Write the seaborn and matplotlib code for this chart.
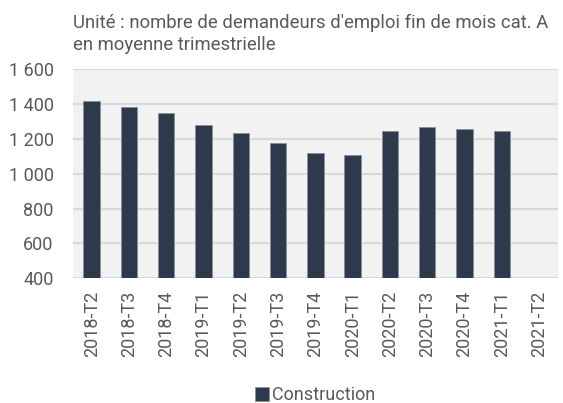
import numpy as np
import matplotlib
matplotlib.use("Agg")
import matplotlib.pyplot as plt
from matplotlib.ticker import FuncFormatter
import seaborn as sns
import pandas as pd

trimestres = ["2018-T2", "2018-T3", "2018-T4", "2019-T1", "2019-T2", "2019-T3",
              "2019-T4", "2020-T1", "2020-T2", "2020-T3", "2020-T4", "2021-T1", "2021-T2"]
construction = [1418, 1384, 1351, 1281, 1234, 1177, 1118, 1108, 1246, 1269, 1257, 1246, np.nan]
yticks = [400, 600, 800, 1000, 1200, 1400, 1600]

df = pd.DataFrame({"trimestre": trimestres, "valeur": construction})

sns.set_style("white")
plt.rcParams["font.family"] = ["Roboto", "DejaVu Sans"]

gris = "#595959"
fig = plt.figure(figsize=(5.63, 4.03), dpi=100)
ax = fig.add_axes([0.1297, 0.3094, 0.8609, 0.5186])
ax.set_facecolor("#f2f2f2")

sns.barplot(data=df, x="trimestre", y="valeur", color="#2d3a4b", width=0.44,
            saturation=1, edgecolor="#8a9099", linewidth=0.6,
            label="Construction", ax=ax, zorder=3)

ax.set_ylim(400, 1600)
ax.set_yticks(yticks)
ax.yaxis.set_major_formatter(FuncFormatter(lambda v, p: f"{int(v):,}".replace(",", " ")))
ax.grid(axis="y", color="#d9d9d9", linewidth=1.5, zorder=0)
ax.set_axisbelow(True)
for s in ax.spines.values():
    s.set_visible(False)
ax.tick_params(axis="both", length=0, labelsize=13, labelcolor=gris)
ax.tick_params(axis="y", pad=14)
ax.tick_params(axis="x", rotation=90, pad=9)
ax.set_xlabel("")
ax.set_ylabel("")

fig.text(0.1297, 0.965, "Unité : nombre de demandeurs d'emploi fin de mois cat. A\nen moyenne trimestrielle",
         ha="left", va="top", fontsize=13.3, color=gris, linespacing=1.25)

ax.legend(loc="center", bbox_to_anchor=(0.5, -0.56), frameon=False, fontsize=13,
          handlelength=0.75, handleheight=0.75, handletextpad=0.2, labelcolor=gris)

fig.savefig("out.png", dpi=100)
